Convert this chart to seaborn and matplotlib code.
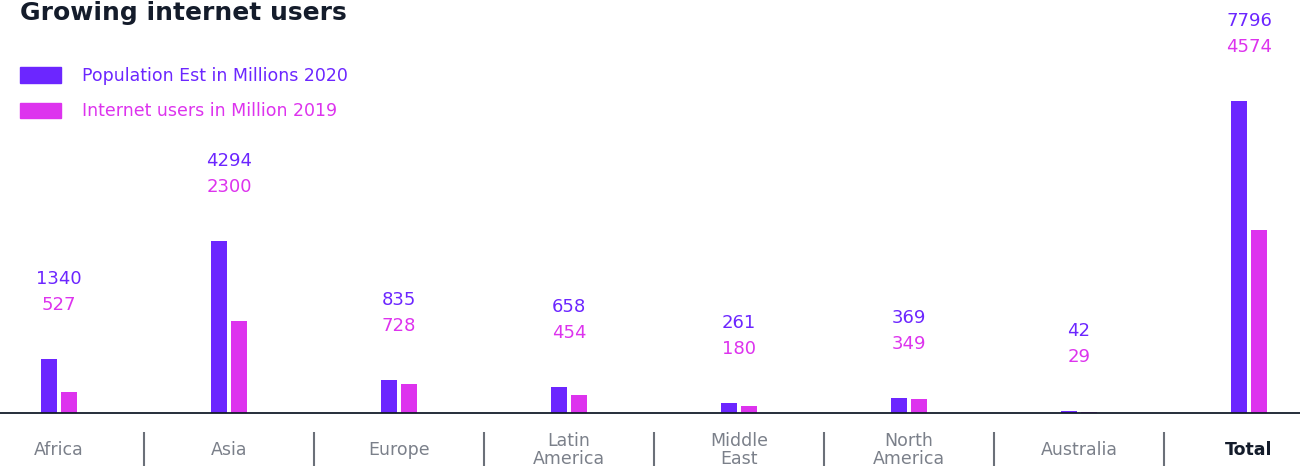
import pandas as pd
import matplotlib.pyplot as plt
import seaborn as sns
from matplotlib.patches import Patch

# Datos del grafico
regiones = ["Africa", "Asia", "Europe", "Latin\nAmerica", "Middle\nEast",
            "North\nAmerica", "Australia", "Total"]
poblacion_2020 = [1340, 4294, 835, 658, 261, 369, 42, 7796]
internet_2019 = [527, 2300, 728, 454, 180, 349, 29, 4574]
series = ["Population Est in Millions 2020", "Internet users in Million 2019"]

morado = "#6c26ff"
rosa = "#dd33ee"
gris = "#7b808a"
oscuro = "#141c2b"

df = pd.DataFrame({
    "region": regiones * 2,
    "valor": poblacion_2020 + internet_2019,
    "serie": [series[0]] * len(regiones) + [series[1]] * len(regiones),
})

sns.set_style("white")
plt.rcParams["font.family"] = ["DejaVu Sans"]

fig = plt.figure(figsize=(13, 4.75), dpi=100)
ax = fig.add_axes([0, 62 / 475, 1, 413 / 475])

sns.barplot(data=df, x="region", y="valor", hue="serie", order=regiones,
            hue_order=series, palette=[morado, rosa], saturation=1,
            width=0.235, gap=0.2, linewidth=0, legend=False, ax=ax)

ax.set_xlim(-59 / 170, (1300 - 59) / 170)
ax.set_ylim(0, 413 * 7796 / 312)

# Etiquetas de valores encima de cada grupo
for i, (p, u) in enumerate(zip(poblacion_2020, internet_2019)):
    ax.annotate(str(p), (i, p), xytext=(0, 80), textcoords="offset pixels",
                ha="center", va="center", color=morado, fontsize=13)
    ax.annotate(str(u), (i, p), xytext=(0, 54), textcoords="offset pixels",
                ha="center", va="center", color=rosa, fontsize=13)

# Ejes
for s in ["top", "left", "right"]:
    ax.spines[s].set_visible(False)
ax.spines["bottom"].set_color(oscuro)
ax.spines["bottom"].set_linewidth(1.3)
ax.set_yticks([])
ax.set_xlabel("")
ax.set_ylabel("")
ax.set_xticks(range(len(regiones)))
ax.set_xticklabels(regiones, fontsize=12.5, color=gris, linespacing=1.0)
ax.tick_params(axis="x", length=0, pad=26.5)
for lbl in ax.get_xticklabels():
    lbl.set_verticalalignment("center")
ultima = ax.get_xticklabels()[-1]
ultima.set_fontweight("bold")
ultima.set_color(oscuro)

# Separadores entre categorias
ax.vlines([i + 0.5 for i in range(len(regiones) - 1)], -53 / 413, -19 / 413,
          transform=ax.get_xaxis_transform(), colors="#6b7079", linewidth=1.5,
          clip_on=False)

# Leyenda
handles = [Patch(color=morado), Patch(color=rosa)]
fig.legend(handles, series, loc="upper left",
           bbox_to_anchor=(20 / 1300, 1 - 67 / 475),
           bbox_transform=fig.transFigure, frameon=False, fontsize=12.5,
           handlelength=2.36, handleheight=0.98, handletextpad=1.2,
           labelspacing=1.0, borderpad=0, borderaxespad=0,
           labelcolor=[morado, rosa])

# Titulo
fig.text(20 / 1300, 1 - 1 / 475, "Growing internet users", fontsize=18,
         fontweight="bold", color=oscuro, ha="left", va="top")

fig.savefig("out.png", dpi=100)
